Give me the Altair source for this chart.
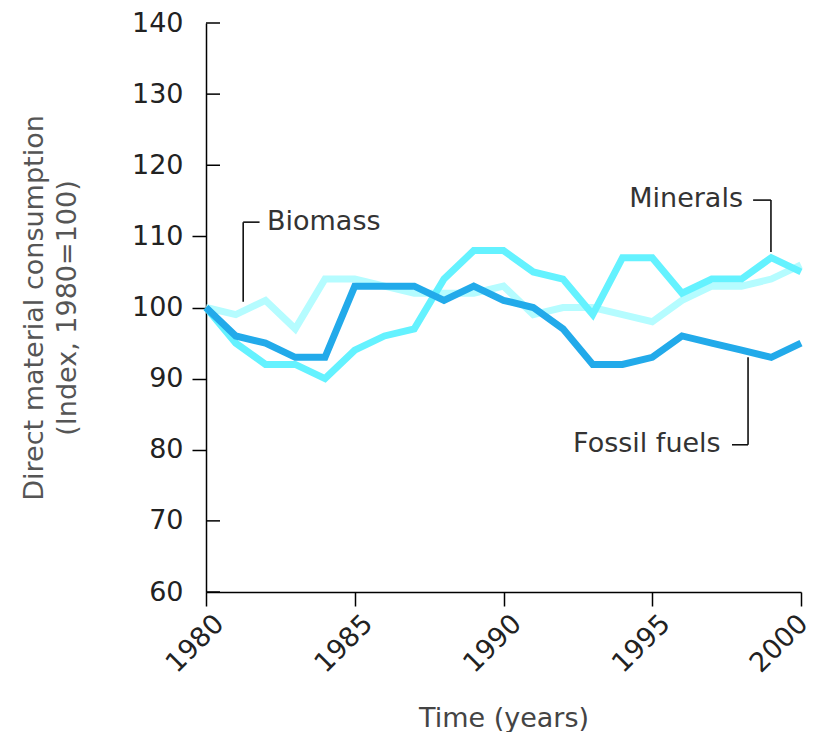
import altair as alt
import pandas as pd

# ---- data ----
years = list(range(1980, 2001))
fossil = [100, 96, 95, 93, 93, 103, 103, 103, 101, 103, 101, 100, 97, 92, 92, 93, 96, 95, 94, 93, 95]
minerals = [100, 95, 92, 92, 90, 94, 96, 97, 104, 108, 108, 105, 104, 99, 107, 107, 102, 104, 104, 107, 105]
biomass = [100, 99, 101, 97, 104, 104, 103, 102, 102, 102, 103, 99, 100, 100, 99, 98, 101, 103, 103, 104, 106]

y_ticks = [60, 70, 80, 90, 100, 110, 120, 130, 140]
inward_ticks = [60, 70, 120, 130, 140]
x_ticks = [1980, 1985, 1990, 1995, 2000]

# annotation labels (position in data units)
lab_text = ["Biomass", "Minerals", "Fossil fuels"]
lab_x = [1982.05, 1998.05, 1997.3]
lab_y = [112.0, 115.3, 80.8]
lab_align = ["left", "right", "right"]

# leader-line segments (data units)
seg_x = [1981.25, 1981.25, 1998.39, 1998.99, 1997.68, 1998.22]
seg_x2 = [1981.25, 1981.8, 1998.99, 1998.99, 1998.22, 1998.22]
seg_y = [100.8, 112.0, 115.1, 115.1, 80.7, 80.7]
seg_y2 = [112.0, 112.0, 115.1, 107.8, 80.7, 93.0]

FONT = "DejaVu Sans"

xscale = alt.Scale(domain=[1980, 2000], nice=False, zero=False)
yscale = alt.Scale(domain=[60, 140], nice=False, zero=False)

def series_df(vals):
    return pd.DataFrame({"year": years, "value": vals})

x_axis = alt.Axis(values=x_ticks, format="d", labelAngle=-45, tickSize=14,
                  labelFontSize=27, labelFont=FONT, labelColor="#222",
                  labelOffset={"condition": {"test": "datum.value >= 2000", "value": -7}, "value": 4},
                  labelFlush=False, labelOverlap=False, labelBound=False,
                  title="Time (years)", titleFontSize=27, titleFont=FONT,
                  titleFontWeight="normal", titleColor="#444", titlePadding=29,
                  labelPadding=4, domainColor="#000", tickColor="#000",
                  domainWidth=1.5, tickWidth=1.5, grid=False)
y_axis = alt.Axis(values=y_ticks, tickSize=14,
                  tickOpacity={"condition": {"test": "datum.value >= 80 && datum.value <= 110", "value": 1}, "value": 0},
                  labelFontSize=27, labelFont=FONT, labelColor="#222", labelPadding=9,
                  title=["Direct material consumption", "(Index, 1980=100)"],
                  titleFontSize=27, titleFont=FONT, titleFontWeight="normal",
                  titleColor="#555", titlePadding=50, titleLineHeight=33,
                  domainColor="#000", tickColor="#000", domainWidth=1.5, tickWidth=1.5,
                  grid=False)

def line_layer(vals, color):
    return alt.Chart(series_df(vals)).mark_line(color=color, strokeWidth=7, strokeJoin="miter").encode(
        x=alt.X("year:Q", scale=xscale, axis=x_axis),
        y=alt.Y("value:Q", scale=yscale, axis=y_axis),
    )

l_bio = line_layer(biomass, "#b5fcff")
l_min = line_layer(minerals, "#64f2ff")
l_fos = line_layer(fossil, "#22aaea")

inward = alt.Chart(pd.DataFrame({"v": inward_ticks})).mark_rule(color="#000", strokeWidth=1.5).encode(
    y=alt.Y("v:Q", scale=yscale, axis=y_axis), x=alt.value(0), x2=alt.value(14)
)

segs = alt.Chart(pd.DataFrame({"x": seg_x, "x2": seg_x2, "y": seg_y, "y2": seg_y2})).mark_rule(
    color="#111", strokeWidth=1.6).encode(
    x=alt.X("x:Q", scale=xscale, axis=x_axis), x2="x2:Q",
    y=alt.Y("y:Q", scale=yscale, axis=y_axis), y2="y2:Q",
)

lab_df = pd.DataFrame({"t": lab_text, "x": lab_x, "y": lab_y, "a": lab_align})

def text_layer(align):
    return alt.Chart(lab_df).transform_filter(alt.datum.a == align).mark_text(
        align=align, baseline="middle", fontSize=27, font=FONT, color="#333").encode(
        x=alt.X("x:Q", scale=xscale, axis=x_axis),
        y=alt.Y("y:Q", scale=yscale, axis=y_axis),
        text="t:N",
    )

chart = alt.layer(l_bio, l_min, l_fos, inward, segs, text_layer("left"), text_layer("right")).properties(
    width=595, height=569,
    background="white",
    autosize=alt.AutoSizeParams(type="none"),
    padding={"left": 198, "top": 15, "right": 12, "bottom": 140},
).configure_view(stroke=None)

chart.save("out.html", embed_options={"renderer": "svg", "actions": False})
